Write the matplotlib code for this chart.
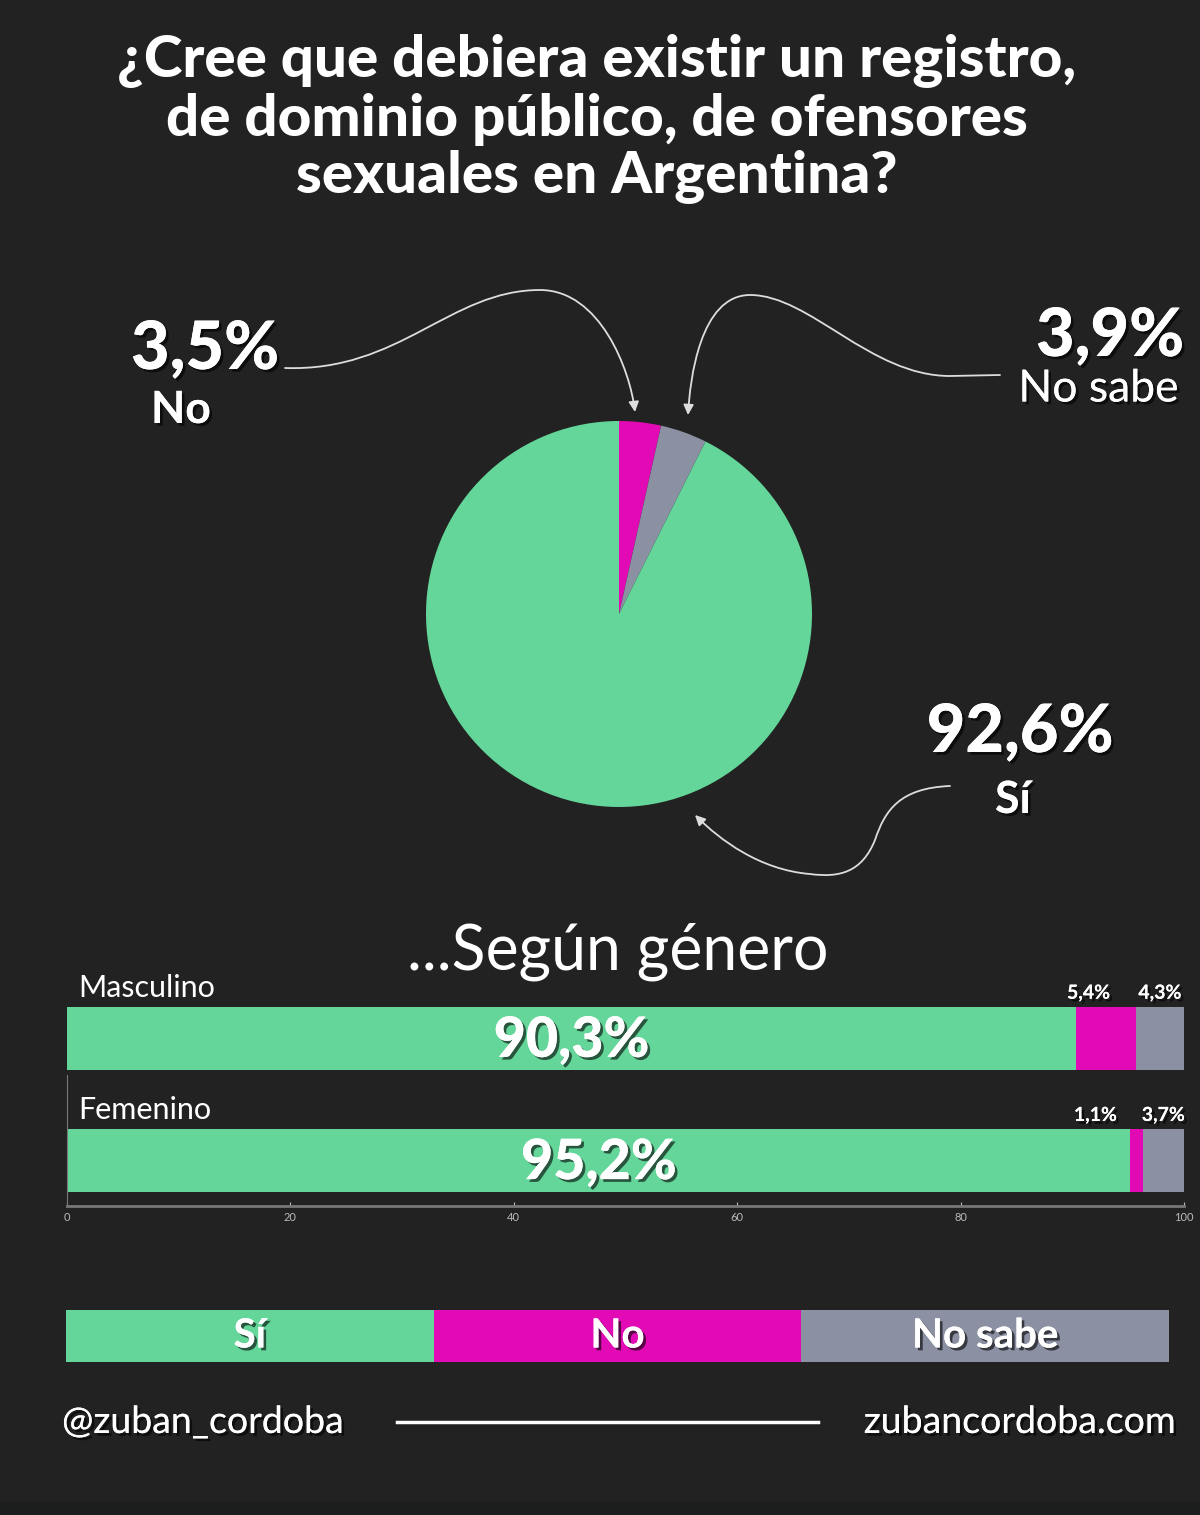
import matplotlib.pyplot as plt
import matplotlib.patheffects as pe
from matplotlib.path import Path
from matplotlib.patches import FancyArrowPatch

plt.rcParams['font.family'] = ['Lato', 'DejaVu Sans']

# datos
categorias = ["Sí", "No", "No sabe"]
total = [92.6, 3.5, 3.9]
generos = ["Masculino", "Femenino"]
si = [90.3, 95.2]
no = [5.4, 1.1]
no_sabe = [4.3, 3.7]
ticks = [0, 20, 40, 60, 80, 100]

verde = "#64D69A"
magenta = "#E10AB4"
gris = "#8B90A3"
fondo = "#222222"
colores = [verde, magenta, gris]

W, H = 1200, 1515
fig = plt.figure(figsize=(W / 100, H / 100), dpi=100, facecolor=fondo)

sombra = [pe.withSimplePatchShadow(offset=(2, -2), shadow_rgbFace="black", alpha=0.6), pe.Normal()]

# capa de texto en pixeles
base = fig.add_axes([0, 0, 1, 1])
base.set_xlim(0, W)
base.set_ylim(H, 0)
base.axis("off")

titulo = "¿Cree que debiera existir un registro,\nde dominio público, de ofensores\nsexuales en Argentina?"
base.text(597, 119, titulo, ha="center", va="center", color="white", fontsize=42,
          fontweight="black", linespacing=1.1)

# pie
ax_pie = fig.add_axes([(619 - 193) / W, (H - 807) / H, 386 / W, 386 / H])
orden = [total[1], total[2], total[0]]
ax_pie.pie(orden, colors=[magenta, gris, verde], startangle=90, counterclock=False)
ax_pie.set_xlim(-1, 1)
ax_pie.set_ylim(-1, 1)
ax_pie.set_aspect("equal")


def fmt(v):
    return f"{v:.1f}".replace(".", ",") + "%"


base.text(205, 350, fmt(total[1]), ha="center", va="center", color="white",
          fontsize=48, fontweight="black", path_effects=sombra)
base.text(181, 410, "No", ha="center", va="center", color="white",
          fontsize=32, fontweight="bold", path_effects=sombra)
base.text(1184, 337, fmt(total[2]), ha="right", va="center", color="white",
          fontsize=48, fontweight="black", path_effects=sombra)
base.text(1179, 389, "No sabe", ha="right", va="center", color="white",
          fontsize=32, path_effects=sombra)
base.text(1020, 733, fmt(total[0]), ha="center", va="center", color="white",
          fontsize=48, fontweight="black", path_effects=sombra)
base.text(1013, 800, "Sí", ha="center", va="center", color="white",
          fontsize=32, fontweight="bold", path_effects=sombra)


def flecha(verts, codes):
    p = FancyArrowPatch(path=Path(verts, codes), arrowstyle="-|>,head_length=6,head_width=3",
                        color="#dddddd", lw=1.3)
    base.add_patch(p)


C = Path.CURVE4
flecha([(285, 368), (400, 372), (450, 290), (540, 290), (600, 290), (630, 370), (635, 412)],
       [Path.MOVETO, C, C, C, C, C, C])
flecha([(1000, 375), (950, 376), (870, 376), (810, 295), (750, 295), (700, 295), (690, 380), (688, 415)],
       [Path.MOVETO, Path.LINETO, C, C, C, C, C, C])
flecha([(950, 786), (900, 788), (885, 810), (875, 840), (862, 872), (840, 878), (810, 874),
        (760, 870), (720, 840), (695, 815)],
       [Path.MOVETO, C, C, C, C, C, C, C, C, C])

base.text(618, 952, "...Según género", ha="center", va="center", color="white", fontsize=45)

# barras por genero
ax = fig.add_axes([67 / W, (H - 1206) / H, (1184 - 67) / W, 206 / H])
ax.set_facecolor("none")
y = list(range(len(generos)))
izq_no = [a for a in si]
izq_ns = [a + b for a, b in zip(si, no)]
ax.barh(y, si, height=0.514, color=verde)
ax.barh(y, no, left=izq_no, height=0.514, color=magenta)
ax.barh(y, no_sabe, left=izq_ns, height=0.514, color=gris)
ax.set_xlim(0, 100)
ax.set_ylim(1.371, -0.314)
ax.set_yticks([])
ax.set_xticks(ticks)
ax.tick_params(axis="x", colors="#bbbbbb", labelsize=8, length=3, direction="in", pad=4)
for s in ["top", "right"]:
    ax.spines[s].set_visible(False)
ax.spines["bottom"].set_color("#777777")
ax.spines["bottom"].set_linewidth(2)
ax.spines["left"].set_color("#777777")
ax.spines["left"].set_bounds(0.3, 1.371)

for i in y:
    ax.text(si[i] / 2, i + 0.02, fmt(si[i]), ha="center", va="center", color="white",
            fontsize=40, fontweight="black", path_effects=sombra)
    ax.text(100 - no_sabe[i] - 2.3, i - 0.3, fmt(no[i]), ha="right", va="bottom", color="white",
            fontsize=14, fontweight="bold", path_effects=sombra)
    ax.text(100 - no_sabe[i] / 2, i - 0.3, fmt(no_sabe[i]), ha="center", va="bottom", color="white",
            fontsize=14, fontweight="bold", path_effects=sombra)
    ax.text(1, i - 0.3, generos[i], ha="left", va="bottom", color="white", fontsize=22)

# leyenda
ax_ley = fig.add_axes([66 / W, (H - 1362) / H, (1169 - 66) / W, 52 / H])
ax_ley.barh([0] * 3, [1, 1, 1], left=[0, 1, 2], height=1, color=colores)
ax_ley.set_xlim(0, 3)
ax_ley.set_ylim(-0.5, 0.5)
ax_ley.axis("off")
for k, c in enumerate(categorias):
    ax_ley.text(k + 0.5, 0, c, ha="center", va="center", color="white", fontsize=29,
                fontweight="bold", path_effects=sombra)

# pie de pagina
base.text(62, 1422, "@zuban_cordoba", ha="left", va="center", color="white", fontsize=27,
          path_effects=sombra)
base.text(1177, 1422, "zubancordoba.com", ha="right", va="center", color="white", fontsize=27,
          path_effects=sombra)
base.plot([397, 818], [1422, 1422], color="white", lw=2.5)
base.axhspan(1502, H, color="#1c1e1e")

fig.savefig("out.png", dpi=100, facecolor=fondo)
